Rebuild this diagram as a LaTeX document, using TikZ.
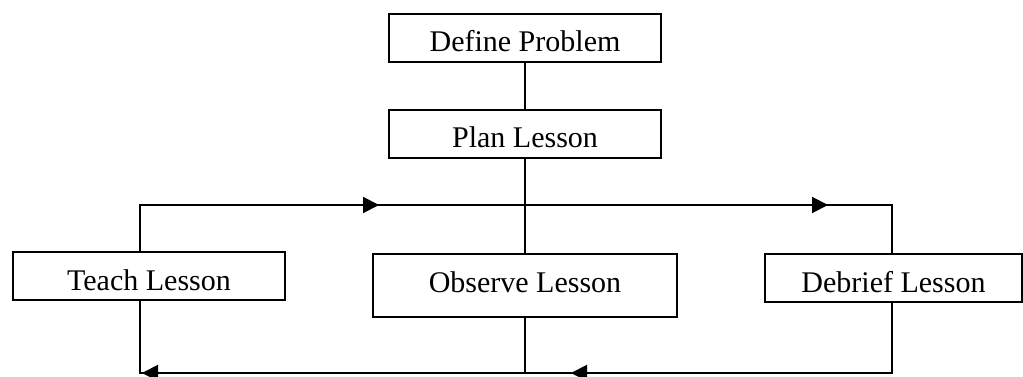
\documentclass[tikz,border=0pt]{standalone}
\usepackage{fontspec}
\setmainfont{Liberation Serif}
\usetikzlibrary{arrows.meta,decorations.markings}
\begin{document}
\begin{tikzpicture}[x=1pt,y=-1pt,
  stepbox/.style={draw, line width=2pt, inner sep=0pt, anchor=north west,
    text height=38pt, text depth=10pt, font=\fontsize{30}{34}\selectfont},
  conn/.style={line width=2pt},
  marktip/.style={postaction={decorate, decoration={markings,
    mark=at position #1 with {\arrow{Triangle[length=16pt,width=16pt]}}}}}]
\useasboundingbox (0,0) rectangle (1023,377);
\node[stepbox, minimum width=272pt] (define) at (388,13) {Define Problem};
\node[stepbox, minimum width=272pt] (plan) at (388,109) {Plan Lesson};
\node[stepbox, minimum width=272pt] (teach) at (12,251) {Teach Lesson};
\node[stepbox, minimum width=304pt, text depth=25pt] (observe) at (372,253) {Observe Lesson};
\node[stepbox, minimum width=257pt] (debrief) at (764,253) {Debrief Lesson};
\coordinate (tl) at (140,205);
\coordinate (tr) at (892,205);
\coordinate (bl) at (140,373);
\coordinate (br) at (892,373);
\draw[conn] (define.south) -- (plan.north);
\draw[conn] (plan.south) -- (plan.south |- observe.north);
\draw[conn, marktip=285pt, marktip=734pt]
  (tl |- teach.north) -- (tl) -- (tr) -- (tr |- debrief.north);
\draw[conn] (observe.south) -- (observe.south |- bl);
\draw[conn, marktip=391pt, marktip=820pt]
  (tr |- debrief.south) -- (br) -- (bl) -- (tl |- teach.south);
\end{tikzpicture}
\end{document}
